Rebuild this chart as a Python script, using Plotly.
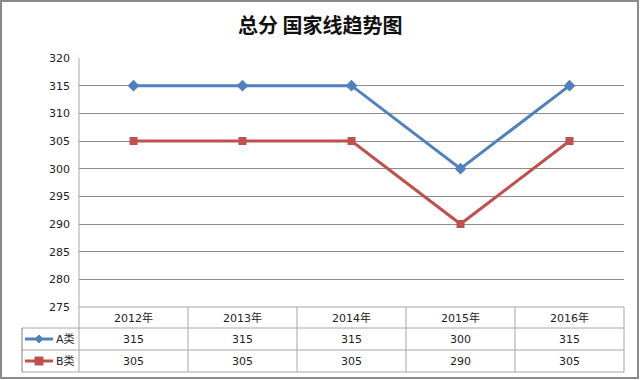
import plotly.graph_objects as go

# ---- data ----
years = ["2012年", "2013年", "2014年", "2015年", "2016年"]
series_a_name = "A类"
series_b_name = "B类"
series_a = [315, 315, 315, 300, 315]
series_b = [305, 305, 305, 290, 305]
y_min, y_max, y_step = 275, 320, 5
title_text = "总分 国家线趋势图"

W, H = 640, 380
BLUE = "#4F81BD"
RED = "#C0504D"
GRID = "#8C8C8C"
TBL = "#A6A6A6"
FONT = "DejaVu Sans, Noto Sans CJK SC, sans-serif"

def px(x):
    return x / W

def py(y):
    return 1 - y / H

# plot area in pixels
PL, PR, PT, PB = 79, 624, 58, 307
ROW_H = [PB, 328, 350, 372]
LEG_L = 22

fig = go.Figure()
xs = list(range(len(years)))
fig.add_trace(go.Scatter(x=xs, y=series_a, mode="lines+markers", name=series_a_name,
                         line=dict(color=BLUE, width=3),
                         marker=dict(symbol="diamond", size=9, color=BLUE)))
fig.add_trace(go.Scatter(x=xs, y=series_b, mode="lines+markers", name=series_b_name,
                         line=dict(color=RED, width=3),
                         marker=dict(symbol="square", size=8, color=RED)))

shapes = []
annotations = []

def ann(x, y, text, size=11, xanchor="center", color="#222", family=FONT):
    annotations.append(dict(x=px(x), y=py(y), xref="paper", yref="paper", xanchor=xanchor, yanchor="middle",
                            text=text, showarrow=False, font=dict(size=size, color=color, family=family)))

# outer frame
shapes.append(dict(type="rect", xref="paper", yref="paper", x0=px(1), x1=px(638), y0=py(378), y1=py(1),
                   line=dict(color="#8A8A8A", width=2), fillcolor="rgba(0,0,0,0)", layer="below"))

# table horizontal lines
for i, yy in enumerate(ROW_H):
    x0 = PL if i == 0 else LEG_L
    shapes.append(dict(type="line", xref="paper", yref="paper", x0=px(x0), x1=px(PR), y0=py(yy), y1=py(yy),
                       line=dict(color=TBL, width=1)))
# table vertical lines
ncol = len(years)
colw = (PR - PL) / ncol
for k in range(1, ncol + 1):
    xx = PL + k * colw
    shapes.append(dict(type="line", xref="paper", yref="paper", x0=px(xx), x1=px(xx), y0=py(PB), y1=py(ROW_H[-1]),
                       line=dict(color=TBL, width=1)))
shapes.append(dict(type="line", xref="paper", yref="paper", x0=px(PL), x1=px(PL), y0=py(PT), y1=py(ROW_H[-1]),
                   line=dict(color=TBL, width=1)))
shapes.append(dict(type="line", xref="paper", yref="paper", x0=px(LEG_L), x1=px(LEG_L), y0=py(ROW_H[1]), y1=py(ROW_H[-1]),
                   line=dict(color="#808080", width=1)))

# header and values
rows = [(series_a_name, series_a, BLUE, "diamond"), (series_b_name, series_b, RED, "square")]
for k, yr in enumerate(years):
    cx = PL + (k + 0.5) * colw
    ann(cx, (ROW_H[0] + ROW_H[1]) / 2, yr)
    for r, (nm, vals, col, sym) in enumerate(rows):
        ann(cx, (ROW_H[r + 1] + ROW_H[r + 2]) / 2, str(vals[k]))

# legend keys
for r, (nm, vals, col, sym) in enumerate(rows):
    yc = (ROW_H[r + 1] + ROW_H[r + 2]) / 2
    shapes.append(dict(type="line", xref="paper", yref="paper", x0=px(25), x1=px(53), y0=py(yc), y1=py(yc),
                       line=dict(color=col, width=3)))
    d = 4
    if sym == "diamond":
        path = f"M {px(39)} {py(yc - d)} L {px(39 + d)} {py(yc)} L {px(39)} {py(yc + d)} L {px(39 - d)} {py(yc)} Z"
        shapes.append(dict(type="path", xref="paper", yref="paper", path=path, fillcolor=col, line=dict(color=col, width=1)))
    else:
        shapes.append(dict(type="rect", xref="paper", yref="paper", x0=px(39 - d), x1=px(39 + d),
                           y0=py(yc + d), y1=py(yc - d), fillcolor=col, line=dict(color=col, width=1)))
    ann(54, yc, nm, xanchor="left")

# title
ann(320, 25, "<b>" + title_text + "</b>", size=20, color="#111", family="Noto Sans CJK SC, sans-serif")

fig.update_layout(
    width=W, height=H, autosize=False,
    margin=dict(l=0, r=0, t=0, b=0, pad=0, autoexpand=False),
    paper_bgcolor="white", plot_bgcolor="white",
    showlegend=False,
    shapes=shapes, annotations=annotations,
    xaxis=dict(domain=[px(PL), px(PR)], range=[-0.5, len(years) - 0.5], showticklabels=False,
               showgrid=False, zeroline=False, showline=False, fixedrange=True, automargin=False),
    yaxis=dict(domain=[py(PB), py(PT)], range=[y_min, y_max], dtick=y_step, tick0=y_min,
               showgrid=True, gridcolor=GRID, gridwidth=1, zeroline=False, showline=False,
               ticks="", ticklabelstandoff=8, automargin=False,
               tickfont=dict(size=11, color="#222", family=FONT), fixedrange=True),
)

page_js = "document.body.style.margin='0';document.body.style.overflow='hidden';"
fig.write_html("out.html", config={"displayModeBar": False}, post_script=page_js)
